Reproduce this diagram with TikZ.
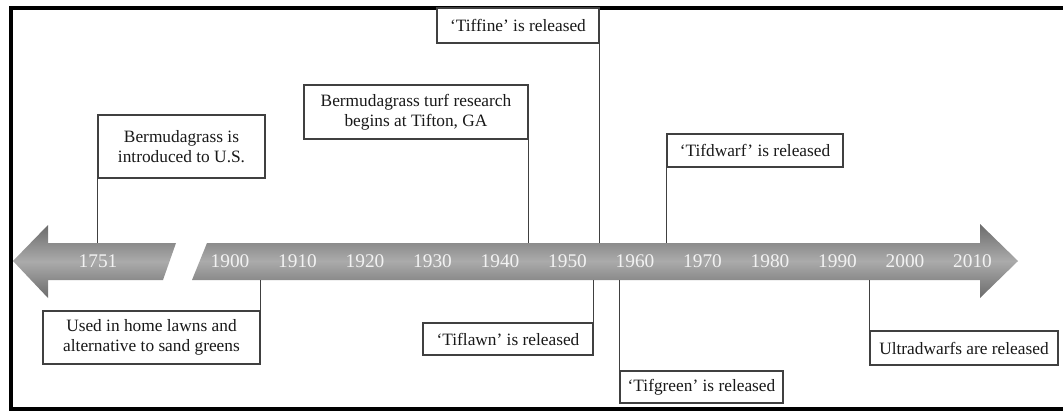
\documentclass[tikz,border=0pt]{standalone}
\usepackage{fontspec}
\setmainfont{Liberation Serif}
\usepackage{tikz}

\tikzset{
  event/.style={draw=black!75, line width=1pt, fill=white, align=center,
    inner sep=0pt, text=black!90, font=\fontsize{13}{15}\selectfont},
  leader/.style={draw=black!75, line width=1pt},
  band/.style={top color=black!58, bottom color=black!58, middle color=black!33},
  yearlbl/.style={text=white!95!black, font=\fontsize{14.5}{16}\selectfont}
}

\begin{document}
\begin{tikzpicture}[x=0.75pt, y=-0.75pt]
  \useasboundingbox (0,0) rectangle (1063,411);
  % frame, open on the right
  \draw[line width=3pt] (1063,7.5) -- (11,7.5) -- (11,409) -- (1063,409);

  % timeline band, broken between 1751 and 1900
  \shade[band] (13,261) -- (48,225) -- (48,243) -- (176,243) -- (163,280)
    -- (48,280) -- (48,298) -- cycle;
  \shade[band] (207,243) -- (980,243) -- (980,224) -- (1018,261) -- (980,298)
    -- (980,280) -- (192,280) -- cycle;
  \coordinate (bandtop) at (0,243);
  \coordinate (bandbot) at (0,280);

  \node[yearlbl] (y1751) at (98,261) {1751};
  \foreach \yr in {1900,1910,...,2010}
    \node[yearlbl] (y\yr) at ({230+(\yr-1900)*6.75},261) {\yr};

  % events above
  \node[event, minimum width=125.25pt, minimum height=47.25pt] (intro) at (181.5,146.5)
    {Bermudagrass is\\introduced to U.S.};
  \node[event, minimum width=168pt, minimum height=40.5pt] (research) at (416,112)
    {Bermudagrass turf research\\begins at Tifton, GA};
  \node[event, minimum width=121.5pt, minimum height=26.25pt] (tiffine) at (518,25.5)
    {‘Tiffine’ is released};
  \node[event, minimum width=132pt, minimum height=24.75pt] (tifdwarf) at (755,150.5)
    {‘Tifdwarf’ is released};

  % events below
  \node[event, minimum width=162.75pt, minimum height=39.75pt] (lawns) at (151.5,337.5)
    {Used in home lawns and\\alternative to sand greens};
  \node[event, minimum width=127.5pt, minimum height=24pt] (tiflawn) at (508,339)
    {‘Tiflawn’ is released};
  \node[event, minimum width=122.25pt, minimum height=24pt] (tifgreen) at (701.5,387)
    {‘Tifgreen’ is released};
  \node[event, minimum width=141pt, minimum height=25.5pt] (ultra) at (964,348)
    {Ultradwarfs are released};

  \draw[leader] (intro.south west) -- (intro.south west |- bandtop);
  \draw[leader] (research.south east) -- (research.south east |- bandtop);
  \draw[leader] (tiffine.south east) -- (tiffine.south east |- bandtop);
  \draw[leader] (tifdwarf.south west) -- (tifdwarf.south west |- bandtop);
  \draw[leader] (lawns.north east) -- (lawns.north east |- bandbot);
  \draw[leader] (tiflawn.north east) -- (tiflawn.north east |- bandbot);
  \draw[leader] (tifgreen.north west) -- (tifgreen.north west |- bandbot);
  \draw[leader] (ultra.north west) -- (ultra.north west |- bandbot);
\end{tikzpicture}
\end{document}
